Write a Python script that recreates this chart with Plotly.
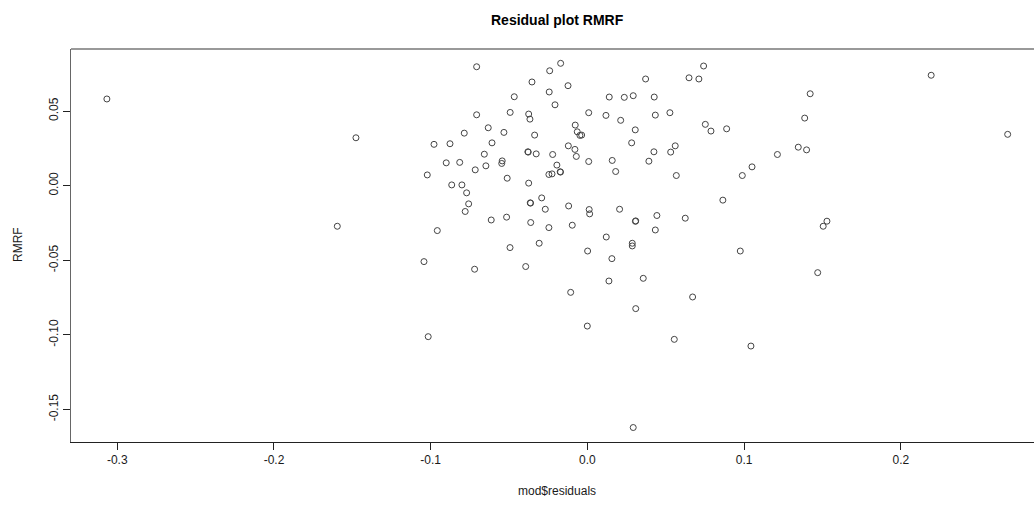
import plotly.graph_objects as go

# Residuals (x) and RMRF (y)
residuals = [
    -0.3066, -0.1477, -0.1596, 0.2193, 0.2681,
    -0.0707, -0.0171, -0.0241, -0.0354, -0.0124, -0.0244, -0.0467, -0.0207,
    -0.0707, -0.0493, -0.0375, -0.0367, 0.0008, -0.0633, -0.0786, -0.0533,
    -0.0337, -0.0078, -0.0065, -0.0048, -0.0037, -0.0979, -0.0877, -0.0609,
    -0.0122, -0.0080, -0.0071, -0.0380, -0.0378, -0.0327, -0.0222, -0.0658,
    -0.0901, -0.0815, -0.0544, -0.0547, -0.0648, -0.0716, 0.0008, -0.0195,
    -0.0246, -0.0226, -0.0174, -0.0172, -0.1022, -0.0512, -0.0375, -0.0866,
    -0.0801, -0.0771, -0.0292,
    -0.0758, -0.0780, -0.0365, -0.0363, -0.0269, -0.0120, 0.0011, 0.0014,
    -0.0614, -0.0516, -0.0362, -0.0246, -0.0097, -0.0958, -0.0494, -0.0308,
    0.0001, -0.1043, -0.0720, -0.0394, -0.0107, -0.0001, -0.1016,
    0.0741, 0.0648, 0.0711, 0.0371, 0.0139, 0.0235, 0.0292, 0.0426, 0.0118,
    0.0212, 0.0433, 0.0526, 0.0752, 0.0788, 0.0888, 0.0305, 0.0282, 0.0560,
    0.0531, 0.0424, 0.0392, 0.0158, 0.0180, 0.0567, 0.1050, 0.0988, 0.1212,
    0.0205, 0.0308, 0.0306, 0.0443, 0.0624, 0.0864, 0.0433, 0.0120, 0.0286,
    0.0286, 0.0975, 0.0156, 0.0137, 0.0356, 0.0671, 0.0308, 0.0554, 0.1043,
    0.0292,
    0.1421, 0.1386, 0.1345, 0.1398, 0.1528, 0.1504, 0.1469,
]
rmrf = [
    0.0581, 0.0321, -0.0272, 0.0740, 0.0344,
    0.0797, 0.0820, 0.0770, 0.0695, 0.0670, 0.0628, 0.0596, 0.0542,
    0.0475, 0.0491, 0.0480, 0.0446, 0.0489, 0.0388, 0.0352, 0.0357,
    0.0339, 0.0406, 0.0361, 0.0337, 0.0339, 0.0277, 0.0281, 0.0287,
    0.0267, 0.0243, 0.0196, 0.0227, 0.0225, 0.0213, 0.0209, 0.0211,
    0.0153, 0.0156, 0.0166, 0.0149, 0.0133, 0.0106, 0.0162, 0.0138,
    0.0075, 0.0079, 0.0093, 0.0091, 0.0072, 0.0050, 0.0017, 0.0005,
    0.0005, -0.0048, -0.0082,
    -0.0122, -0.0173, -0.0115, -0.0117, -0.0158, -0.0136, -0.0160, -0.0189,
    -0.0230, -0.0211, -0.0247, -0.0281, -0.0265, -0.0301, -0.0415, -0.0386,
    -0.0438, -0.0509, -0.0560, -0.0542, -0.0715, -0.0941, -0.1012,
    0.0802, 0.0723, 0.0715, 0.0715, 0.0594, 0.0592, 0.0603, 0.0594, 0.0471,
    0.0438, 0.0473, 0.0489, 0.0411, 0.0366, 0.0381, 0.0374, 0.0287, 0.0267,
    0.0225, 0.0227, 0.0164, 0.0169, 0.0095, 0.0068, 0.0126, 0.0068, 0.0209,
    -0.0158, -0.0236, -0.0239, -0.0200, -0.0218, -0.0097, -0.0297, -0.0344, -0.0386,
    -0.0404, -0.0438, -0.0489, -0.0639, -0.0621, -0.0746, -0.0824, -0.1030, -0.1075,
    -0.1621,
    0.0616, 0.0453, 0.0258, 0.0240, -0.0238, -0.0272, -0.0583,
]

x_ticks = [-0.3, -0.2, -0.1, 0.0, 0.1, 0.2]
x_tick_labels = ["-0.3", "-0.2", "-0.1", "0.0", "0.1", "0.2"]
y_ticks = [-0.15, -0.10, -0.05, 0.00, 0.05]
y_tick_labels = ["-0.15", "-0.10", "-0.05", "0.00", "0.05"]

FONT = "Liberation Sans, Arial, Helvetica, sans-serif"
TXT = "#1a1a1a"

fig = go.Figure(
    go.Scatter(
        x=residuals, y=rmrf, mode="markers",
        marker=dict(symbol="circle-open", size=6, color="#444444",
                    line=dict(width=1, color="#444444")),
        showlegend=False, hoverinfo="x+y",
    )
)

W, H = 1034, 506
ML, MR, MT, MB = 71, 0, 49, 64
PW, PH = W - ML - MR, H - MT - MB

def px(xp):
    return (xp - ML) / PW

def py(yp):
    return (H - MB - yp) / PH

fig.update_layout(
    width=W, height=H,
    margin=dict(l=ML, r=MR, t=MT, b=MB, pad=0),
    paper_bgcolor="white", plot_bgcolor="white",
    font=dict(family=FONT, size=12, color=TXT),
    xaxis=dict(
        range=[-0.3295, 0.2849], tickvals=x_ticks, ticktext=x_tick_labels,
        ticks="outside", ticklen=7, tickwidth=1, tickcolor="#222222",
        showline=True, linecolor="#222222", linewidth=1, mirror=False,
        showgrid=False, zeroline=False,
        tickfont=dict(family=FONT, size=12, color=TXT),
    ),
    yaxis=dict(
        range=[-0.1718, 0.0916], tickvals=y_ticks, ticktext=y_tick_labels,
        ticks="outside", ticklen=7, tickwidth=1, tickcolor="#222222",
        showline=True, linecolor="#666666", linewidth=1.3, mirror=False,
        showgrid=False, zeroline=False, tickangle=-90,
        tickfont=dict(family=FONT, size=12, color=TXT),
    ),
    shapes=[
        dict(type="line", xref="paper", yref="paper", x0=0, x1=1, y0=1, y1=1,
             line=dict(color="#777777", width=1.5)),
    ],
    annotations=[
        dict(text="<b>Residual plot RMRF</b>", x=px(557), y=py(20),
             xref="paper", yref="paper", showarrow=False,
             xanchor="center", yanchor="middle",
             font=dict(family=FONT, size=14, color="#000000")),
        dict(text="mod$residuals", x=px(557), y=py(491),
             xref="paper", yref="paper", showarrow=False,
             xanchor="center", yanchor="middle",
             font=dict(family=FONT, size=12, color=TXT)),
        dict(text="RMRF", x=px(18), y=py(245),
             xref="paper", yref="paper", showarrow=False, textangle=-90,
             xanchor="center", yanchor="middle",
             font=dict(family=FONT, size=12, color=TXT)),
    ],
)

fig.write_html("out.html")
